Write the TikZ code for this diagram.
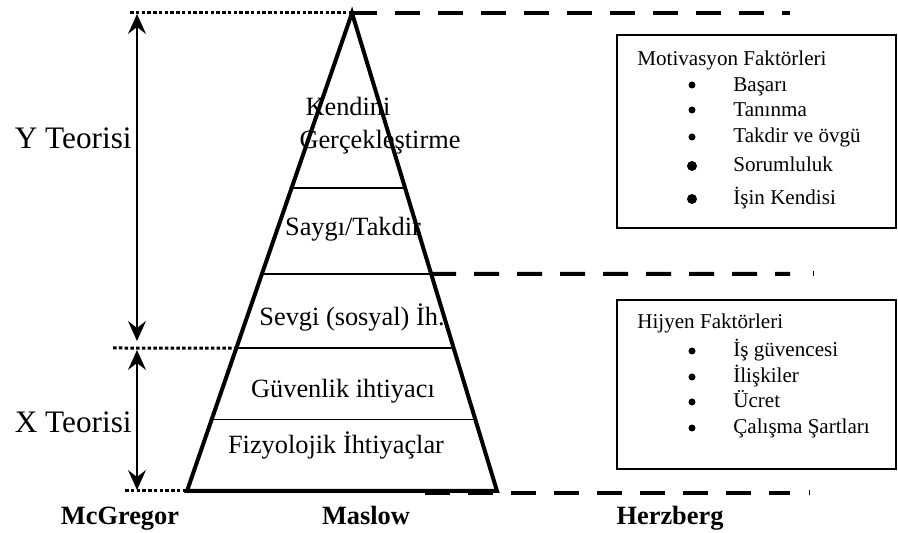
\documentclass[tikz,border=0pt]{standalone}
\usepackage{fontspec}
\setmainfont{Liberation Serif}
\usetikzlibrary{arrows.meta,calc}
\pgfdeclarelayer{bg}
\pgfsetlayers{bg,main}
\tikzset{
        lvl/.style={font=\fontsize{15}{18}\selectfont, inner sep=0pt, text height=0.66em, text depth=0pt},
        theory/.style={font=\fontsize{17.8}{20}\selectfont, inner sep=0pt, anchor=east, text height=0.66em, text depth=0pt},
        author/.style={font=\fontsize{15}{18}\selectfont\bfseries, inner sep=0pt, text height=0.66em, text depth=0pt},
        item/.style={font=\fontsize{12}{14}\selectfont, inner sep=0pt, anchor=west, text height=0.66em, text depth=0pt},
        bul/.style={circle, fill, inner sep=0pt, minimum size=#1},
        factorbox/.style={draw, line width=0.035cm, inner sep=0pt},
        pyr/.style={line width=0.08cm, line join=miter},
        tier/.style={line width=0.025cm},
        guide/.style={line width=0.06cm, dash pattern=on 0.07cm off 0.045cm},
        split/.style={line width=0.08cm, dash pattern=on 0.5cm off 0.36cm},
        span/.style={line width=0.03cm, {Stealth[length=0.4cm, width=0.36cm, inset=0.14cm]}-{Stealth[length=0.4cm, width=0.36cm, inset=0.14cm]}}
}
\begin{document}
\begin{tikzpicture}
        \useasboundingbox (0cm, 0cm) rectangle (17.96cm, 10.66cm);
        \coordinate (top) at (7.04cm, 10.40cm);
        \coordinate (bl) at (3.74cm, 0.84cm);
        \coordinate (br) at (9.94cm, 0.84cm);
        \coordinate (g0) at (2.60cm, 10.40cm);
        \coordinate (g1) at (2.26cm, 3.70cm);
        \coordinate (g2) at (2.50cm, 0.84cm);
        \coordinate (d0) at (15.80cm, 10.40cm);
        \coordinate (d1a) at (15.80cm, 5.18cm);
        \coordinate (d2a) at (8.50cm, 0.80cm);
        \coordinate (d2b) at (15.80cm, 0.80cm);
        \coordinate (ya) at (2.74cm, 10.38cm);
        \coordinate (yb) at (2.74cm, 3.84cm);
        \coordinate (xa) at (2.74cm, 3.66cm);
        \coordinate (xb) at (2.74cm, 0.86cm);
        \node (y) [theory] at (2.64cm, 7.80cm) {Y Teorisi};
        \node (x) [theory] at (2.64cm, 2.12cm) {X Teorisi};
        \node (l1) [lvl] at (6.96cm, 8.46cm) {Kendini};
        \node (l1b) [lvl] at (7.60cm, 7.80cm) {Gerçekleştirme};
        \node (l2) [lvl] at (7.06cm, 6.06cm) {Saygı/Takdir};
        \node (l3) [lvl] at (7.04cm, 4.26cm) {Sevgi (sosyal) İh.};
        \node (l4) [lvl] at (6.86cm, 2.82cm) {Güvenlik ihtiyacı};
        \node (l5) [lvl] at (6.72cm, 1.70cm) {Fizyolojik İhtiyaçlar};
        \node (mc) [author] at (2.40cm, 0.28cm) {McGregor};
        \node (ma) [author] at (7.32cm, 0.28cm) {Maslow};
        \node (he) [author] at (13.40cm, 0.28cm) {Herzberg};
        \node (mot) [factorbox, minimum width=5.58cm, minimum height=3.86cm] at (15.13cm, 8.03cm) {};
        \node (hyg) [factorbox, minimum width=5.58cm, minimum height=3.38cm] at (15.13cm, 2.97cm) {};
        \node (m0) [item] at (12.74cm, 9.46cm) {Motivasyon Faktörleri};
        \node (mb1) [bul=0.14cm] at (13.84cm, 8.96cm) {};
        \node (mb2) [bul=0.14cm] at (13.84cm, 8.46cm) {};
        \node (mb3) [bul=0.14cm] at (13.84cm, 7.92cm) {};
        \node (mb4) [bul=0.2cm] at (13.84cm, 7.34cm) {};
        \node (mb5) [bul=0.2cm] at (13.84cm, 6.68cm) {};
        \node (m1) [item] at (14.66cm, 8.94cm) {Başarı};
        \node (m2) [item] at (14.66cm, 8.44cm) {Tanınma};
        \node (m3) [item] at (14.66cm, 7.92cm) {Takdir ve övgü};
        \node (m4) [item] at (14.66cm, 7.34cm) {Sorumluluk};
        \node (m5) [item] at (14.66cm, 6.69cm) {İşin Kendisi};
        \node (h0) [item] at (12.74cm, 4.20cm) {Hijyen Faktörleri};
        \node (hb1) [bul=0.14cm] at (13.84cm, 3.64cm) {};
        \node (hb2) [bul=0.14cm] at (13.84cm, 3.12cm) {};
        \node (hb3) [bul=0.14cm] at (13.84cm, 2.62cm) {};
        \node (hb4) [bul=0.14cm] at (13.84cm, 2.10cm) {};
        \node (h1) [item] at (14.66cm, 3.64cm) {İş güvencesi};
        \node (h2) [item] at (14.66cm, 3.12cm) {İlişkiler};
        \node (h3) [item] at (14.66cm, 2.62cm) {Ücret};
        \node (h4) [item] at (14.66cm, 2.10cm) {Çalışma Şartları};
        \begin{pgfonlayer}{bg}
                \draw [pyr] (top) -- (bl) -- (br) -- cycle;
                \draw [tier] ($(top)!0.366!(bl)$) -- ($(top)!0.366!(br)$);
                \draw [tier] ($(top)!0.546!(bl)$) -- ($(top)!0.546!(br)$);
                \draw [tier] ($(top)!0.701!(bl)$) -- ($(top)!0.701!(br)$);
                \draw [tier] ($(top)!0.851!(bl)$) -- ($(top)!0.851!(br)$);
                \draw [guide] (g0) -- (top);
                \draw [guide] (g1) -- ($(top)!0.701!(bl)$);
                \draw [guide] (g2) -- (bl);
                \draw [split] (top) -- (d0);
                \draw [split] ($(top)!0.546!(br)$) -- (d1a);
                \draw [split] (d2a) -- (d2b);
                \draw [line width=0.02cm] (16.26cm, 5.13cm) -- (16.26cm, 5.23cm);
                \draw [line width=0.02cm] (16.18cm, 0.75cm) -- (16.18cm, 0.85cm);
                \draw [span] (ya) -- (yb);
                \draw [span] (xa) -- (xb);
        \end{pgfonlayer}
\end{tikzpicture}
\end{document}
